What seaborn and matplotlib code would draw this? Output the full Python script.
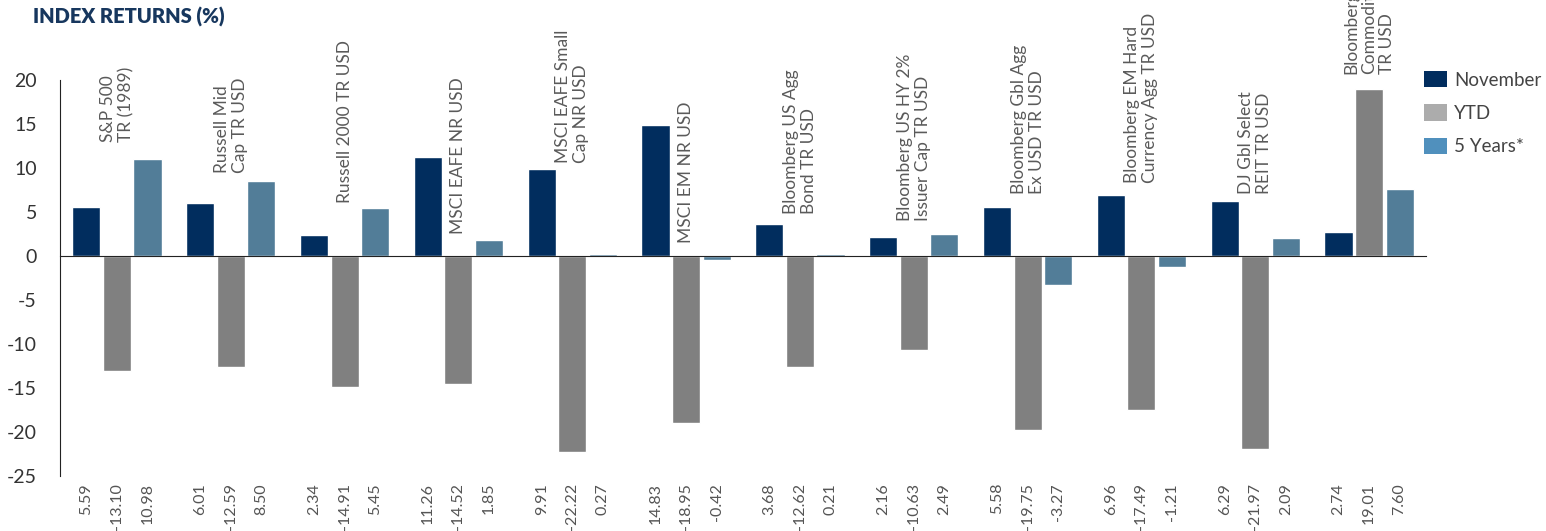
import pandas as pd
import matplotlib.pyplot as plt
import seaborn as sns
from matplotlib.patches import Patch

# Index names (line breaks as in the source chart)
indices = [
    "S&P 500\nTR (1989)",
    "Russell Mid\nCap TR USD",
    "Russell 2000 TR USD",
    "MSCI EAFE NR USD",
    "MSCI EAFE Small\nCap NR USD",
    "MSCI EM NR USD",
    "Bloomberg US Agg\nBond TR USD",
    "Bloomberg US HY 2%\nIssuer Cap TR USD",
    "Bloomberg Gbl Agg\nEx USD TR USD",
    "Bloomberg EM Hard\nCurrency Agg TR USD",
    "DJ Gbl Select\nREIT TR USD",
    "Bloomberg\nCommodity\nTR USD",
]
november = [5.59, 6.01, 2.34, 11.26, 9.91, 14.83, 3.68, 2.16, 5.58, 6.96, 6.29, 2.74]
ytd = [-13.10, -12.59, -14.91, -14.52, -22.22, -18.95, -12.62, -10.63, -19.75, -17.49, -21.97, 19.01]
five_years = [10.98, 8.50, 5.45, 1.85, 0.27, -0.42, 0.21, 2.49, -3.27, -1.21, 2.09, 7.60]
series_names = ["November", "YTD", "5 Years*"]
y_ticks = [20, 15, 10, 5, 0, -5, -10, -15, -20, -25]

# where the rotated index names start (data units)
name_base = [12.9, 9.4, 6.0, 2.5, 10.6, 1.5, 4.8, 4.0, 7.0, 8.3, 7.0, 20.7]

bar_colors = ["#012d5e", "#808080", "#527d98"]
legend_colors = ["#012d5e", "#acacac", "#5090bd"]

rows = []
for i, name in enumerate(indices):
    for s, vals in zip(series_names, [november, ytd, five_years]):
        rows.append({"idx": i, "series": s, "value": vals[i]})
df = pd.DataFrame(rows)

sns.set_style("white")
plt.rcParams["font.family"] = ["Lato", "DejaVu Sans"]

fig = plt.figure(figsize=(15.46, 5.31), dpi=100)
ax = fig.add_axes([60 / 1546, 1 - 476 / 531, (1426 - 60) / 1546, 396 / 531])

sns.barplot(data=df, x="idx", y="value", hue="series", hue_order=series_names,
            palette=bar_colors, saturation=1, width=0.805, gap=0.08,
            legend=False, ax=ax)

ax.set_xlim(-0.5, len(indices) - 0.5)
ax.set_ylim(-25, 20)
ax.set_xlabel("")
ax.set_ylabel("")

for s in ["top", "right"]:
    ax.spines[s].set_visible(False)
ax.spines["left"].set_color("#222222")
ax.spines["bottom"].set_position(("data", 0))
ax.spines["bottom"].set_color("#222222")

# y ticks crossing the axis
ax.set_yticks(y_ticks)
ax.set_yticklabels([str(t) for t in y_ticks], fontsize=14, color="#333333")
ax.set_yticks(y_ticks, minor=True)
ax.yaxis.remove_overlapping_locs = False
ax.tick_params(axis="y", which="major", direction="out", length=8.6, width=1,
               color="#222222", pad=8)
ax.tick_params(axis="y", which="minor", direction="in", length=15.8, width=1,
               color="#222222")

# x: group separators only
ax.set_xticks([])
ax.set_xticks([i - 0.5 for i in range(len(indices) + 1)], minor=True)
ax.tick_params(axis="x", which="minor", direction="out", length=7, width=1,
               color="#222222", labelbottom=False)

# value labels under the axis
offsets = [-0.268, 0.0, 0.268]
for i in range(len(indices)):
    for off, vals in zip(offsets, [november, ytd, five_years]):
        ax.annotate(f"{vals[i]:.2f}", xy=(i + off, 0), xycoords=("data", "axes fraction"),
                    xytext=(0, -5), textcoords="offset points",
                    rotation=90, ha="center", va="top", fontsize=11.5,
                    color="#555555", annotation_clip=False)

# index names above the bars
for i, name in enumerate(indices):
    ax.text(i, name_base[i], name, rotation=90, ha="center", va="bottom",
            multialignment="left", fontsize=12.5, color="#5a5a5a",
            linespacing=1.15, clip_on=False)

handles = [Patch(facecolor=c, edgecolor="none") for c in legend_colors]
fig.legend(handles, series_names, loc="upper left",
           bbox_to_anchor=(1424 / 1546, 1 - 71 / 531), frameon=False,
           fontsize=13.5, handlelength=1.2, handleheight=0.95,
           handletextpad=0.4, labelspacing=0.85, borderaxespad=0,
           borderpad=0, labelcolor="#444444")

fig.text(33 / 1546, 1 - 17 / 531, "INDEX RETURNS (%)", fontsize=14.5,
         fontweight="heavy", color="#17375e", va="center", ha="left")

fig.savefig("out.png", dpi=100)
